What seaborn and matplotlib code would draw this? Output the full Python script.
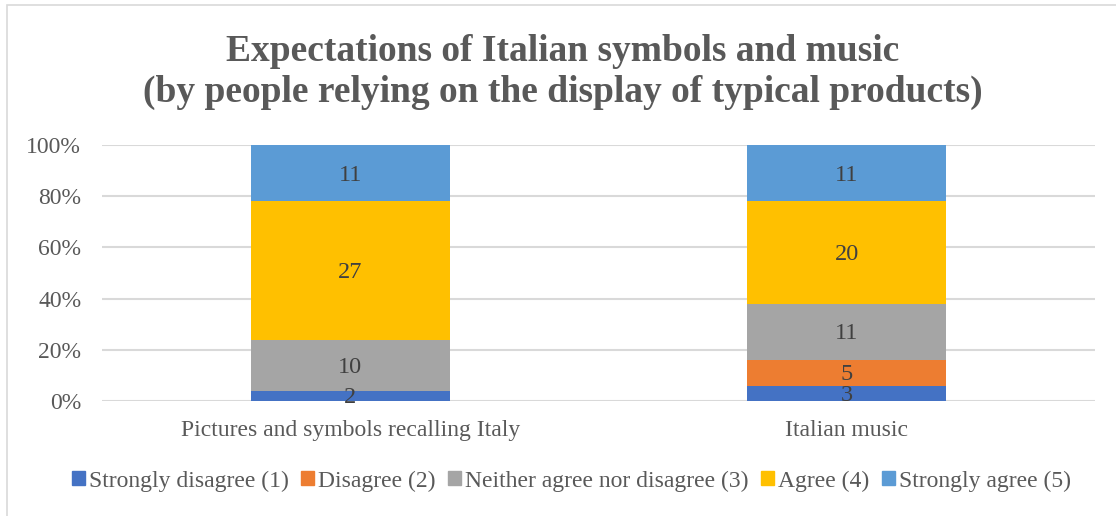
import numpy as np
import pandas as pd
import matplotlib
matplotlib.use("Agg")
import matplotlib.pyplot as plt
from matplotlib.patches import Rectangle
import seaborn as sns

# Survey responses (counts) per item
categories = ["Pictures and symbols recalling Italy", "Italian music"]
levels = ["Strongly disagree (1)", "Disagree (2)", "Neither agree nor disagree (3)",
          "Agree (4)", "Strongly agree (5)"]
strongly_disagree = [2, 3]
disagree = [0, 5]
neutral = [10, 11]
agree = [27, 20]
strongly_agree = [11, 11]
colors = ["#4472C4", "#ED7D31", "#A5A5A5", "#FFC000", "#5B9BD5"]

counts = np.array([strongly_disagree, disagree, neutral, agree, strongly_agree], dtype=float)
totals = counts.sum(axis=0)
pct = counts / totals * 100
tops = np.cumsum(pct, axis=0)
bottoms = tops - pct

sns.set_theme(style="white")
plt.rcParams["font.family"] = ["Liberation Serif", "DejaVu Serif"]

fig = plt.figure(figsize=(11.16, 5.16), dpi=100)
ax = fig.add_axes([102 / 1116, 1 - 401 / 516, (1095 - 102) / 1116, (401 - 145) / 516])

# Stacked bars: draw cumulative tops from the last series downwards
for i in range(len(levels) - 1, -1, -1):
    df = pd.DataFrame({"item": categories, "value": tops[i]})
    sns.barplot(data=df, x="item", y="value", order=categories, color=colors[i],
                width=0.4, saturation=1, ax=ax, linewidth=0, zorder=2)

for i in range(len(levels)):
    for j in range(len(categories)):
        if counts[i, j] > 0:
            ax.text(j, bottoms[i, j] + pct[i, j] / 2 - 0.8, f"{int(counts[i, j])}",
                    ha="center", va="center", fontsize=17.5, color="#404040", zorder=3)

ax.set_xlim(-0.5, 1.5)
ax.set_ylim(0, 100)
ax.set_yticks(np.arange(0, 101, 20))
ax.set_yticklabels([f"{v}%" for v in range(0, 101, 20)])
ax.yaxis.grid(True, color="#d9d9d9", linewidth=1.5, zorder=0)
ax.set_axisbelow(True)
for s in ax.spines.values():
    s.set_visible(False)
ax.set_xlabel("")
ax.set_ylabel("")
ax.tick_params(axis="both", length=0, labelsize=17, colors="#595959")
ax.tick_params(axis="x", pad=14)
ax.tick_params(axis="y", pad=15)

fig.text(0.5 + 5 / 1116, 1 - 72 / 516,
         "Expectations of Italian symbols and music\n(by people relying on the display of typical products)",
         ha="center", va="center", fontsize=27, fontweight="bold", color="#595959",
         linespacing=1.2)

handles = [Rectangle((0, 0), 1, 1, color=c) for c in colors]
fig.legend(handles, levels, loc="center", bbox_to_anchor=(0.512, 1 - 481 / 516), ncol=5,
           frameon=False, fontsize=17, labelcolor="#595959", handlelength=0.55,
           handleheight=0.55, handletextpad=0.15, columnspacing=0.55)

# Chart-area border
fig.patches.append(Rectangle((7 / 1116, -0.1), 2, 1.1 - 5 / 516, transform=fig.transFigure,
                             fill=False, edgecolor="#d9d9d9", linewidth=1.2))

fig.savefig("out.png", dpi=100)
